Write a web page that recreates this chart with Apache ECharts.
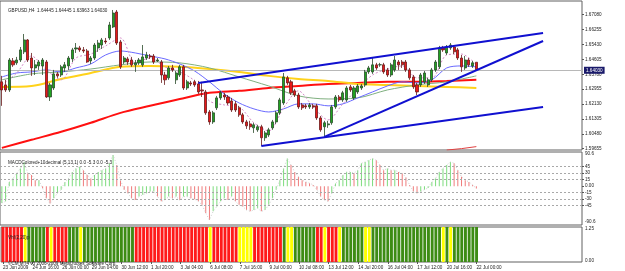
<!DOCTYPE html>
<html><head><meta charset="utf-8">
<script src="https://cdn.jsdelivr.net/npm/echarts@6/dist/echarts.min.js"></script>
<style>html,body{margin:0;padding:0;background:#fff}#c{width:625px;height:271px}</style>
</head><body><div id="c"></div>
<script>
// ---------- DATA ----------
const xTickLabels = ['23 Jun 2009','24 Jun 16:00','26 Jun 00:00','29 Jun 04:00','30 Jun 12:00','1 Jul 20:00','3 Jul 04:00','6 Jul 08:00','7 Jul 16:00','9 Jul 00:00','10 Jul 08:00','13 Jul 12:00','14 Jul 20:00','16 Jul 04:00','17 Jul 12:00','20 Jul 16:00','22 Jul 00:00'];
const priceTicks = [1.67080,1.66255,1.65430,1.64605,1.63780,1.62955,1.62130,1.61305,1.60480,1.59655];
const lastPrice = 1.64030;

const opens = [1.6336,1.6319,1.6291,1.6452,1.6441,1.6457,1.6502,1.6568,1.6468,1.6413,
1.6424,1.6424,1.6446,1.6252,1.6302,1.6380,1.6374,1.6413,1.6424,1.6463,
1.6518,1.6524,1.6513,1.6507,1.6452,1.6468,1.6524,1.6540,1.6562,1.6579,
1.6640,1.6723,1.6557,1.6446,1.6463,1.6457,1.6430,1.6441,1.6430,1.6468,
1.6479,1.6479,1.6452,1.6446,1.6374,1.6358,1.6413,1.6347,1.6374,1.6419,
1.6302,1.6330,1.6336,1.6324,1.6291,1.6280,1.6169,1.6114,1.6192,1.6247,
1.6263,1.6252,1.6230,1.6214,1.6192,1.6153,1.6114,1.6103,1.6081,1.6070,
1.6087,1.6026,1.6042,1.6081,1.6114,1.6164,1.6219,1.6358,1.6336,1.6286,
1.6263,1.6208,1.6203,1.6197,1.6203,1.6203,1.6136,1.6087,1.6098,1.6109,
1.6197,1.6252,1.6236,1.6236,1.6308,1.6247,1.6280,1.6302,1.6319,1.6391,
1.6391,1.6430,1.6430,1.6430,1.6402,1.6374,1.6402,1.6446,1.6446,1.6446,
1.6402,1.6363,1.6319,1.6319,1.6336,1.6319,1.6347,1.6402,1.6419,1.6524,
1.6496,1.6524,1.6529,1.6513,1.6468,1.6413,1.6457,1.6424,1.64445];
const closes = [1.6291,1.6291,1.6457,1.6430,1.6457,1.6513,1.6568,1.6457,1.6413,1.6430,
1.6446,1.6457,1.6252,1.6319,1.6380,1.6369,1.6419,1.6430,1.6468,1.6513,
1.6524,1.6513,1.6507,1.6446,1.6468,1.6540,1.6551,1.6568,1.6557,1.6651,
1.6717,1.6551,1.6419,1.6468,1.6446,1.6430,1.6441,1.6457,1.6474,1.6485,
1.6474,1.6446,1.6457,1.6374,1.6347,1.6413,1.6402,1.6385,1.6419,1.6302,
1.6336,1.6324,1.6319,1.6280,1.6286,1.6164,1.6114,1.6164,1.6247,1.6275,
1.6252,1.6219,1.6180,1.6180,1.6153,1.6114,1.6092,1.6087,1.6098,1.6087,
1.6026,1.6053,1.6070,1.6114,1.6164,1.6236,1.6363,1.6330,1.6275,1.6263,
1.6197,1.6192,1.6197,1.6208,1.6197,1.6136,1.6070,1.6109,1.6103,1.6197,
1.6252,1.6236,1.6275,1.6302,1.6291,1.6302,1.6313,1.6313,1.6391,1.6413,
1.6430,1.6413,1.6431,1.6391,1.6374,1.6430,1.6457,1.6430,1.6430,1.6402,
1.6358,1.6308,1.6280,1.6374,1.6385,1.6347,1.6402,1.6446,1.6524,1.6513,
1.6529,1.6540,1.6502,1.6468,1.6419,1.6457,1.6430,1.6441,1.64030];
const highs = [1.6369,1.6347,1.6468,1.6468,1.6474,1.6529,1.6601,1.6573,1.6496,1.6457,
1.6457,1.6468,1.6457,1.6330,1.6402,1.6391,1.6430,1.6446,1.6479,1.6524,
1.6551,1.6535,1.6529,1.6518,1.6479,1.6551,1.6568,1.6579,1.6579,1.6668,
1.6734,1.6734,1.6568,1.6479,1.6474,1.6474,1.6457,1.6468,1.6540,1.6502,
1.6490,1.6490,1.6468,1.6457,1.6391,1.6424,1.6430,1.6396,1.6430,1.6430,
1.6347,1.6341,1.6347,1.6341,1.6336,1.6291,1.6180,1.6175,1.6258,1.6286,
1.6275,1.6263,1.6247,1.6230,1.6203,1.6164,1.6125,1.6120,1.6109,1.6098,
1.6098,1.6064,1.6081,1.6125,1.6175,1.6247,1.6385,1.6369,1.6347,1.6297,
1.6275,1.6219,1.6214,1.6219,1.6214,1.6214,1.6147,1.6120,1.6120,1.6208,
1.6263,1.6263,1.6286,1.6313,1.6319,1.6313,1.6324,1.6324,1.6402,1.6424,
1.6468,1.6441,1.6441,1.6441,1.6413,1.6441,1.6479,1.6457,1.6457,1.6457,
1.6413,1.6374,1.6330,1.6385,1.6396,1.6358,1.6413,1.6457,1.6535,1.6535,
1.6540,1.6551,1.6540,1.6524,1.6485,1.6479,1.6468,1.6452,1.64445];
const lows = [1.6203,1.6280,1.6280,1.6419,1.6430,1.6446,1.6490,1.6446,1.6369,1.6374,
1.6402,1.6374,1.6247,1.6230,1.6291,1.6358,1.6363,1.6391,1.6402,1.6446,
1.6496,1.6502,1.6496,1.6441,1.6435,1.6457,1.6502,1.6518,1.6546,1.6568,
1.6634,1.6540,1.6407,1.6435,1.6430,1.6419,1.6391,1.6430,1.6419,1.6457,
1.6463,1.6435,1.6446,1.6330,1.6319,1.6347,1.6391,1.6324,1.6363,1.6291,
1.6291,1.6313,1.6308,1.6269,1.6252,1.6153,1.6098,1.6103,1.6180,1.6236,
1.6236,1.6208,1.6169,1.6169,1.6142,1.6103,1.6075,1.6070,1.6053,1.6059,
1.5981,1.6009,1.6031,1.6070,1.6103,1.6153,1.6208,1.6319,1.6263,1.6252,
1.6186,1.6180,1.6186,1.6186,1.6186,1.6125,1.6059,1.6031,1.6081,1.6098,
1.6186,1.6225,1.6225,1.6225,1.6280,1.6236,1.6269,1.6291,1.6308,1.6380,
1.6380,1.6402,1.6419,1.6380,1.6363,1.6363,1.6391,1.6402,1.6413,1.6391,
1.6347,1.6297,1.6263,1.6308,1.6324,1.6308,1.6336,1.6391,1.6407,1.6502,
1.6485,1.6513,1.6490,1.6457,1.6391,1.6402,1.6419,1.6413,1.63963];

// moving averages, read at every 8th / 4th bar
const ma8Idx = [0,8,16,24,32,40,48,56,64,72,80,88,96,104,112,120,128];
const maRed = [1.5970,1.6015,1.6059,1.6109,1.6164,1.6203,1.6241,1.6275,1.6286,1.6302,1.6313,1.6324,1.6330,1.6336,1.6336,1.6341,1.6347];
const maYellow = [1.6308,1.6313,1.6352,1.6385,1.6419,1.6424,1.6419,1.6407,1.6391,1.6369,1.6352,1.6341,1.6324,1.6319,1.6313,1.6308,1.6302];
const maGreen = [1.6347,1.6380,1.6391,1.6407,1.6430,1.6446,1.6441,1.6413,1.6363,1.6313,1.6258,1.6241,1.6247,1.6291,1.6319,1.6336,1.6369];
const ma4Idx = [0,4,8,12,16,20,24,28,32,36,40,44,48,52,56,60,64,68,72,76,80,84,88,92,96,100,104,108,112,116,120,124,128];
const maBlue = [1.6363,1.6385,1.6391,1.6402,1.6391,1.6413,1.6435,1.6485,1.6507,1.6496,1.6479,1.6463,1.6435,1.6396,1.6336,1.6269,1.6219,1.6186,1.6169,1.6186,1.6214,1.6214,1.6203,1.6214,1.6247,1.6280,1.6313,1.6336,1.6330,1.6347,1.6413,1.6424,1.6419];
const maPink = [1.6319,1.6385,1.6479,1.6402,1.6347,1.6468,1.6490,1.6535,1.6579,1.6441,1.6468,1.6419,1.6391,1.6341,1.6230,1.6208,1.6197,1.6109,1.6064,1.6192,1.6286,1.6197,1.6125,1.6214,1.6297,1.6374,1.6407,1.6424,1.6358,1.6358,1.6485,1.6490,1.6430];
const lowRedIdx = [120,124,128];
const lowRedVals = [1.5958,1.5966,1.5977];

// trend lines: [bar, price] endpoints
const upperLine = [[53,1.6330],[146,1.6607]];
const steepLine = [[87,1.6031],[146,1.6562]];
const lowerLine = [[70,1.5981],[146,1.6197]];

// MACD histogram
const macd = [-39,-35,10,18,30,41,56,30,26,14,
14,-5,-28,-40,-28,-16,-8,10,18,33,
41,45,37,26,18,26,33,37,41,53,
72,49,14,-8,-16,-28,-32,-24,-20,-16,
-12,-12,-24,-35,-32,-24,-28,-24,-32,-24,
-24,-28,-30,-35,-43,-62,-78,-58,-47,-35,
-28,-32,-24,-35,-43,-47,-55,-58,-55,-51,
-58,-55,-43,-28,-8,14,41,64,49,33,
22,14,10,7,3,-8,-24,-32,-35,-16,
6,14,26,33,33,30,37,53,56,60,
64,60,49,37,41,37,37,33,30,20,
3,-12,-16,-12,-8,-4,10,18,33,41,
49,56,53,37,22,14,10,3,-5.3];
const macdLevels = [45,30,15,-15,-30,-45];

// colour state indicator (r = red, y = yellow, g = green)
const stateCodes = ('rrrrrr' + 'y' + 'ggggg' + 'r' + 'y' + 'rrrr' + 'ggg' + 'y' + 'gggggggggggggg' +
  'rrrrrrrrrrrrrrrrrrrr' + 'y' + 'rrrrrrr' + 'yyyy' + 'rrrrrrrr' + 'g' + 'yy' + 'gggggg' + 'rr' + 'y' + 'rrr' + 'y' +
  'gggggg' + 'yy' + 'ggggggggggggggggggg' + 'y' + 'g' + 'y' + 'ggggggg').split('');

// ---------- CHART ----------
const N = 157;
const cats = Array.from({length: N}, (_, i) => String(i));
const pairs = (idx, vals) => idx.map((x, k) => [x, vals[k]]);
const F = 'Liberation Sans';
const FS = 4.6;
const txt = '#222';

const candleData = opens.map((o, i) => [o, closes[i], lows[i], highs[i]]);
const macdColors = macd.map((v, i) => (i === 0 || v >= macd[i - 1]) ? '#7ddc7d' : '#ef7b7b');
const stateColor = {r: '#ff1a1a', y: '#ffff00', g: '#3d8c14'};
const stateData = stateCodes.map(c => ({value: 1, itemStyle: {color: stateColor[c]}}));

const labelEvery8 = (idx) => idx % 8 === 0 && idx <= 128;

const chart = echarts.init(document.getElementById('c'));
chart.setOption({
  animation: false,
  backgroundColor: '#ffffff',
  textStyle: {fontFamily: F},
  title: [
    {text: 'GBPUSD,H4  1.64445 1.64445 1.63963 1.64030', left: 3, top: 3, textStyle: {fontSize: FS, fontWeight: 'normal', color: txt, fontFamily: F}},
    {text: 'MACDColored+10decimal (5,13,1) 0.0 -5.3 0.0 -5.3', left: 3, top: 155, textStyle: {fontSize: FS, fontWeight: 'normal', color: txt, fontFamily: F}},
    {text: 'Vhf(2,20)p', left: 3, top: 230, textStyle: {fontSize: FS, fontWeight: 'normal', color: txt, fontFamily: F}},
    {text: '©CM MT4 v3 2006-2009 MetaQuotes Software Corp.', left: 3, top: 256, textStyle: {fontSize: FS, fontWeight: 'normal', color: txt, fontFamily: F}}
  ],
  grid: [
    {left: 0, top: 1, width: 582, height: 149, show: true, borderColor: '#606060', borderWidth: 1},
    {left: 0, top: 152, width: 582, height: 73, show: true, borderColor: '#606060', borderWidth: 1},
    {left: 0, top: 227, width: 582, height: 35, show: true, borderColor: '#606060', borderWidth: 1}
  ],
  xAxis: [0, 1, 2].map(g => ({
    type: 'category', gridIndex: g, data: cats, boundaryGap: true,
    axisLine: {show: false},
    axisTick: g === 2 ? {show: true, alignWithLabel: true, interval: labelEvery8, length: 2, lineStyle: {color: '#555'}} : {show: false},
    axisLabel: g === 2 ? {
      show: true, interval: labelEvery8, align: 'left', margin: 3, fontSize: FS, color: txt, fontFamily: F,
      formatter: (v, idx) => xTickLabels[idx / 8] || ''
    } : {show: false},
    splitLine: {show: false}
  })),
  yAxis: [
    {type: 'value', gridIndex: 0, position: 'right', min: 1.59583, max: 1.67838, scale: true,
      axisLine: {show: false}, splitLine: {show: false},
      axisTick: {show: true, length: 2, customValues: priceTicks, lineStyle: {color: '#555'}},
      axisLabel: {show: true, customValues: priceTicks, margin: 3, fontSize: FS, color: txt, fontFamily: F, formatter: v => v.toFixed(5)}},
    {type: 'value', gridIndex: 1, position: 'right', min: -89.6, max: 79,
      axisLine: {show: false}, splitLine: {show: false},
      axisTick: {show: true, length: 2, customValues: [45, 30, 15, 0, -15, -30, -45], lineStyle: {color: '#555'}},
      axisLabel: {show: true, customValues: [76, 45, 30, 15, 0, -15, -30, -45, -82], margin: 3, fontSize: FS, color: txt, fontFamily: F,
        formatter: v => v === 76 ? '90.6' : v === -82 ? '-90.6' : v === 0 ? '0.00' : String(v)}},
    {type: 'value', gridIndex: 2, position: 'right', min: 0, max: 1,
      axisLine: {show: false}, splitLine: {show: false}, axisTick: {show: false},
      axisLabel: {show: true, customValues: [0.94, 0.04], margin: 3, fontSize: FS, color: txt, fontFamily: F,
        formatter: v => v > 0.5 ? '1.25' : '0.00'}}
  ],
  series: [
    {type: 'line', name: 'MA red', xAxisIndex: 0, yAxisIndex: 0, data: pairs(ma8Idx, maRed), smooth: 0.3, symbol: 'none', lineStyle: {color: '#ff1010', width: 2}, z: 2},
    {type: 'line', name: 'MA yellow', xAxisIndex: 0, yAxisIndex: 0, data: pairs(ma8Idx, maYellow), smooth: 0.3, symbol: 'none', lineStyle: {color: '#ffd21a', width: 2}, z: 2},
    {type: 'line', name: 'MA green', xAxisIndex: 0, yAxisIndex: 0, data: pairs(ma8Idx, maGreen), smooth: 0.3, symbol: 'none', lineStyle: {color: '#7fb07f', width: 1}, z: 2},
    {type: 'line', name: 'MA blue', xAxisIndex: 0, yAxisIndex: 0, data: pairs(ma4Idx, maBlue), smooth: 0.3, symbol: 'none', lineStyle: {color: '#6a6aff', width: 1}, z: 3},
    {type: 'line', name: 'MA pink', xAxisIndex: 0, yAxisIndex: 0, data: pairs(ma4Idx, maPink), smooth: 0.3, symbol: 'none', lineStyle: {color: '#d58ac8', width: 1, type: [2, 2]}, z: 3},
    {type: 'line', name: 'low red', xAxisIndex: 0, yAxisIndex: 0, data: pairs(lowRedIdx, lowRedVals), symbol: 'none', lineStyle: {color: '#e04040', width: 1}, z: 3},
    {type: 'candlestick', name: 'GBPUSD', xAxisIndex: 0, yAxisIndex: 0, data: candleData, barWidth: 2.6,
      itemStyle: {color: '#21a321', color0: '#e81818', borderColor: '#2a4a2a', borderColor0: '#6a1a1a', borderWidth: 0.8},
      markLine: {silent: true, symbol: 'none', data: [{yAxis: lastPrice}],
        lineStyle: {color: '#b8b8b8', type: 'solid', width: 1},
        label: {position: 'end', formatter: '1.64030', distance: 2, fontSize: FS, color: '#ffffff', backgroundColor: '#1a1a6a', padding: [1, 2], fontFamily: F}},
      z: 5},
    {type: 'line', name: 'upper', xAxisIndex: 0, yAxisIndex: 0, data: upperLine, symbol: 'none', lineStyle: {color: '#1010d0', width: 2}, z: 6},
    {type: 'line', name: 'steep', xAxisIndex: 0, yAxisIndex: 0, data: steepLine, symbol: 'none', lineStyle: {color: '#1010d0', width: 2}, z: 6},
    {type: 'line', name: 'lower', xAxisIndex: 0, yAxisIndex: 0, data: lowerLine, symbol: 'none', lineStyle: {color: '#1010d0', width: 2}, z: 6},

    {type: 'bar', name: 'MACD', xAxisIndex: 1, yAxisIndex: 1, barWidth: 1,
      data: macd.map((v, i) => ({value: v, itemStyle: {color: macdColors[i]}})),
      markLine: {silent: true, symbol: 'none', label: {show: false},
        lineStyle: {color: '#a8a8a8', type: [2, 2], width: 1},
        data: macdLevels.map(v => ({yAxis: v}))}},
    {type: 'line', name: 'MACD dots', xAxisIndex: 1, yAxisIndex: 1, data: macd, symbol: 'none',
      lineStyle: {color: '#cfcfcf', width: 1, type: [1, 2]}},

    {type: 'bar', name: 'State', xAxisIndex: 2, yAxisIndex: 2, data: stateData, barCategoryGap: '22%'}
  ]
});
</script>
</body></html>
